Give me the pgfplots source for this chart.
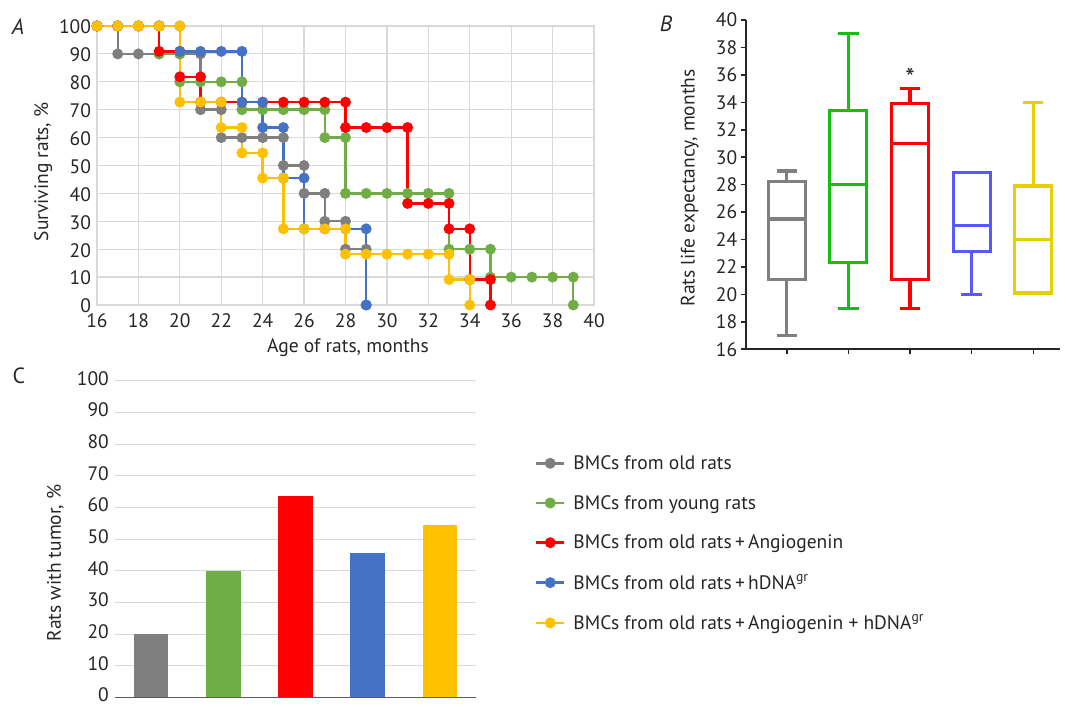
\documentclass[border=0pt]{standalone}
\usepackage{fontspec}
\setmainfont{PT Sans}
\usepackage{pgfplots}
\usepgfplotslibrary{statistics}
\pgfplotsset{compat=1.18}

% Series colours (survival / tumour panels)
\definecolor{cgray}{HTML}{7F7F7F}
\definecolor{cgreen}{HTML}{70AD47}
\definecolor{cred}{HTML}{FF0000}
\definecolor{cblue}{HTML}{4472C4}
\definecolor{cyellow}{HTML}{FFC000}
% Box plot colours
\definecolor{bgray}{HTML}{808080}
\definecolor{bgreen}{HTML}{11C011}
\definecolor{bred}{HTML}{FF0000}
\definecolor{bblue}{HTML}{5858FF}
\definecolor{byellow}{HTML}{E8D000}
\definecolor{gridc}{HTML}{D9D9D9}
\definecolor{textc}{HTML}{262626}

\newcommand\chartfont{\fontsize{19.5bp}{23bp}\selectfont}

\pgfplotsset{
  common/.style={
    scale only axis, anchor=south west, clip=false,
    tick label style={font=\chartfont, text=textc},
    label style={font=\chartfont, text=textc},
    /pgf/number format/assume math mode=true,
  },
}

\begin{document}
\begin{tikzpicture}
\path[use as bounding box] (0,0) rectangle (1066bp,707bp);

% Panel letters
\node[font=\fontsize{22bp}{25bp}\selectfont\itshape, text=textc] at (18bp,680bp) {A};
\node[font=\fontsize{22bp}{25bp}\selectfont\itshape, text=textc] at (666bp,683bp) {B};
\node[font=\fontsize{22bp}{25bp}\selectfont, text=textc] at (19bp,331bp) {C};

% ---------------- A: survival curves ----------------
\begin{axis}[common,
  at={(97bp,402bp)}, width=497bp, height=279bp,
  xmin=16, xmax=40, ymin=0, ymax=100,
  xtick={16,18,...,40}, ytick={0,10,...,100},
  grid=major, major grid style={gridc, line width=1.2bp},
  axis line style={gridc, line width=1.2bp},
  major tick length=0pt,
  xticklabel style={yshift=-5.5bp},
  yticklabel style={yshift=-1bp, xshift=-2.5bp},
  xlabel={Age of rats, months},
  ylabel={Surviving rats, \%},
  xlabel style={at={(axis description cs:0.505,-0.154)}, anchor=center},
  ylabel style={at={(axis description cs:-0.108,0.477)}, anchor=center},
  every axis plot/.append style={line width=2.4bp, mark=*, mark size=4.2bp, mark options={solid}},
  legend style={at={(axis description cs:0.881,-0.532)}, anchor=north west,
    draw=none, fill=none, font=\chartfont, text=textc, row sep=20.3bp,
    inner sep=0pt, nodes={inner sep=2bp},
    /tikz/every odd column/.append style={column sep=6bp}},
  legend cell align=left,
  legend image code/.code={\draw[mark repeat=2, mark phase=2]
    plot coordinates {(0bp,0bp) (14bp,0bp) (28bp,0bp)};},
]
\addplot[cgray] coordinates {
 (16,100)(17,100)(17,90)(18,90)(19,90)(20,90)(21,90)(21,70)(22,70)(22,60)
 (23,60)(24,60)(25,60)(25,50)(26,50)(26,40)(27,40)(27,30)(28,30)(28,20)(29,20)(29,0)};
\addlegendentry{BMCs from old rats}
\addplot[cgreen] coordinates {
 (16,100)(17,100)(18,100)(19,100)(19,90)(20,90)(20,80)(21,80)(22,80)(23,80)
 (23,70)(24,70)(25,70)(26,70)(27,70)(27,60)(28,60)(28,40)(29,40)(30,40)(31,40)
 (32,40)(33,40)(33,20)(34,20)(35,20)(35,10)(36,10)(37,10)(38,10)(39,10)(39,0)};
\addlegendentry{BMCs from young rats}
\addplot[cred] coordinates {
 (16,100)(17,100)(18,100)(19,100)(19,90.9)(20,90.9)(20,81.8)(21,81.8)(21,72.7)
 (22,72.7)(23,72.7)(24,72.7)(25,72.7)(26,72.7)(27,72.7)(28,72.7)(28,63.6)(29,63.6)
 (30,63.6)(31,63.6)(31,36.4)(32,36.4)(33,36.4)(33,27.3)(34,27.3)(34,9.1)(35,9.1)(35,0)};
\addlegendentry{BMCs from old rats\,+\,Angiogenin}
\addplot[cblue] coordinates {
 (16,100)(17,100)(18,100)(19,100)(20,100)(20,90.9)(21,90.9)(22,90.9)(23,90.9)
 (23,72.7)(24,72.7)(24,63.6)(25,63.6)(25,45.5)(26,45.5)(26,27.3)(27,27.3)(28,27.3)
 (29,27.3)(29,0)};
\addlegendentry{BMCs from old rats\,+\,hDNA\textsuperscript{gr}}
\addplot[cyellow] coordinates {
 (16,100)(17,100)(18,100)(19,100)(20,100)(20,72.7)(21,72.7)(22,72.7)(22,63.6)
 (23,63.6)(23,54.5)(24,54.5)(24,45.5)(25,45.5)(25,27.3)(26,27.3)(27,27.3)(28,27.3)
 (28,18.2)(29,18.2)(30,18.2)(31,18.2)(32,18.2)(33,18.2)(33,9.1)(34,9.1)(34,0)};
\addlegendentry{BMCs from old rats\,+\,Angiogenin + hDNA\textsuperscript{gr}}
\end{axis}

% ---------------- B: life expectancy box plots ----------------
\begin{axis}[common,
  at={(745.7bp,357.7bp)}, width=314.3bp, height=329.3bp,
  xmin=0.335, xmax=5.433, ymin=16, ymax=40,
  axis x line*=bottom, axis y line*=left,
  axis line style={line width=2bp, textc},
  xtick={1,2,3,4,5}, xticklabels={},
  ytick={16,18,...,40},
  tick align=outside, major tick length=5bp,
  tick style={textc, line width=1.6bp},
  ylabel={Rats life expectancy, months},
  ylabel style={at={(axis description cs:-0.178,0.49)}, anchor=center},
  boxplot/draw direction=y,
  boxplot/box extend=0.6,
  boxplot/whisker extend=0.33,
]
\addplot+[draw=bgray, line width=3.2bp, solid, mark=none,
  boxplot prepared={lower whisker=17, lower quartile=21.1, median=25.5,
  upper quartile=28.2, upper whisker=29, draw position=1}]
  coordinates {};
\addplot+[draw=bgreen, line width=3.2bp, solid, mark=none,
  boxplot prepared={lower whisker=19, lower quartile=22.3, median=28,
  upper quartile=33.4, upper whisker=39, draw position=2}]
  coordinates {};
\addplot+[draw=bred, line width=3.2bp, solid, mark=none,
  boxplot prepared={lower whisker=19, lower quartile=21.1, median=31,
  upper quartile=33.9, upper whisker=35, draw position=3}]
  coordinates {};
\addplot+[draw=bblue, line width=3.2bp, solid, mark=none,
  boxplot prepared={lower whisker=20, lower quartile=23.1, median=25,
  upper quartile=28.9, upper whisker=28.9, draw position=4}]
  coordinates {};
\addplot+[draw=byellow, line width=3.2bp, solid, mark=none,
  boxplot prepared={lower whisker=20.1, lower quartile=20.1, median=24,
  upper quartile=27.9, upper whisker=34, draw position=5}]
  coordinates {};
% significance mark above the third group
\node[font=\fontsize{27bp}{30bp}\selectfont, text=textc] at (axis cs:3,35.75) {*};
\end{axis}

% ---------------- C: tumour incidence ----------------
\begin{axis}[common,
  at={(115bp,9.5bp)}, width=361bp, height=316.8bp,
  xmin=-0.5, xmax=4.5, ymin=0, ymax=100,
  xtick=\empty, ytick={0,10,...,100},
  ymajorgrids, major grid style={gridc, line width=1.1bp},
  axis x line*=bottom, axis y line*=left,
  x axis line style={line width=1.5bp, draw=textc!75},
  y axis line style={draw=none},
  major tick length=0pt,
  yticklabel style={yshift=2.5bp, inner sep=1.5bp, xshift=-4.5bp},
  ylabel={Rats with tumor, \%},
  ylabel style={at={(axis description cs:-0.165,0.425)}, anchor=center},
  every axis plot/.append style={ybar, bar width=0.48, bar shift=0pt, draw=none},
]
\addplot[fill=cgray] coordinates {(0,20)};
\addplot[fill=cgreen] coordinates {(1,40)};
\addplot[fill=cred] coordinates {(2,63.6)};
\addplot[fill=cblue] coordinates {(3,45.5)};
\addplot[fill=cyellow] coordinates {(4,54.5)};
\end{axis}
\end{tikzpicture}
\end{document}
